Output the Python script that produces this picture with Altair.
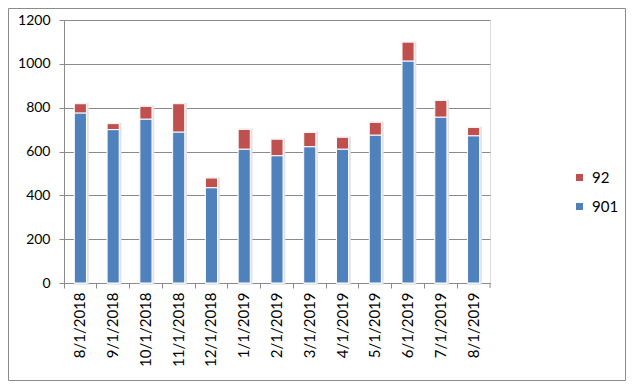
import altair as alt
import pandas as pd

dates = ["8/1/2018", "9/1/2018", "10/1/2018", "11/1/2018", "12/1/2018",
         "1/1/2019", "2/1/2019", "3/1/2019", "4/1/2019", "5/1/2019",
         "6/1/2019", "7/1/2019", "8/1/2019"]
s901 = [776, 700, 748, 689, 435, 611, 581, 622, 611, 675, 1013, 757, 672]
s92 = [42, 27, 58, 129, 44, 90, 75, 65, 54, 58, 86, 76, 38]
series = ["92", "901"]
colors = ["#C0504D", "#4F81BD"]
y_ticks = [0, 200, 400, 600, 800, 1000, 1200]

rows = []
for d, a, b in zip(dates, s901, s92):
    rows.append({"date": d, "series": "901", "value": a, "ord": 0})
    rows.append({"date": d, "series": "92", "value": b, "ord": 1})
df = pd.DataFrame(rows)

FONT = "Lato"
GRID = "#8a8a8a"

x_enc = alt.X("date:N", sort=dates, title=None,
              scale=alt.Scale(paddingInner=0, paddingOuter=0),
              axis=alt.Axis(labelAngle=-90, labelFontSize=15, labelFont=FONT,
                            labelColor="#000", labelPadding=4, bandPosition=0,
                            tickSize=5, tickColor=GRID, domainColor=GRID,
                            grid=False, labelBaseline="middle", labelAlign="right"))
y_enc = alt.Y("value:Q", stack="zero", title=None,
              scale=alt.Scale(domain=[0, 1200], nice=False),
              axis=alt.Axis(values=y_ticks, format="d", labelFontSize=14,
                            labelFont=FONT, labelColor="#000", labelPadding=9,
                            tickSize=5, tickColor=GRID, domainColor=GRID,
                            gridColor=GRID, gridOpacity=1))

shadow = alt.Chart(df).mark_bar(
    width=alt.RelativeBandSize(0.37), fill="#c8c8c8", stroke="#e2e2e2",
    strokeWidth=2.5, xOffset=1, yOffset=0.5
).encode(x=x_enc, y=y_enc, detail="series:N",
         order=alt.Order("ord:Q", sort="ascending"))

bars = alt.Chart(df).mark_bar(
    width=alt.RelativeBandSize(0.37), stroke="white", strokeWidth=1
).encode(
    x=x_enc,
    y=y_enc,
    color=alt.Color("series:N", scale=alt.Scale(domain=series, range=colors),
                    legend=alt.Legend(title=None, orient="none", legendX=508,
                                      legendY=150, symbolType="square",
                                      symbolSize=49, labelFontSize=15,
                                      labelFont=FONT, labelColor="#000",
                                      rowPadding=13, labelOffset=5,
                                      symbolStrokeWidth=0)),
    order=alt.Order("ord:Q", sort="ascending"),
)

one = pd.DataFrame({"a": [0]})
BORDER = "#8c8c8c"
L, R, T, B = -55.5, 561.5, -11.5, 360.5
b_top = alt.Chart(one).mark_rule(stroke=BORDER).encode(
    x=alt.value(L), x2=alt.value(R), y=alt.value(T))
b_bot = alt.Chart(one).mark_rule(stroke=BORDER).encode(
    x=alt.value(L), x2=alt.value(R), y=alt.value(B))
b_left = alt.Chart(one).mark_rule(stroke=BORDER).encode(
    x=alt.value(L), y=alt.value(T), y2=alt.value(B))
b_right = alt.Chart(one).mark_rule(stroke=BORDER).encode(
    x=alt.value(R), y=alt.value(T), y2=alt.value(B))
end_tick = alt.Chart(one).mark_rule(stroke=GRID).encode(
    x=alt.value(426), y=alt.value(263), y2=alt.value(268))

chart = alt.layer(b_top, b_bot, b_left, b_right, shadow, bars, end_tick).properties(
    width=426, height=263,
    autosize=alt.AutoSizeParams(type="none"),
    padding={"left": 56, "top": 12, "right": 138, "bottom": 98},
).configure_view(stroke=None).configure(background="white")

chart.save("out.html", embed_options={"renderer": "svg", "actions": False})
